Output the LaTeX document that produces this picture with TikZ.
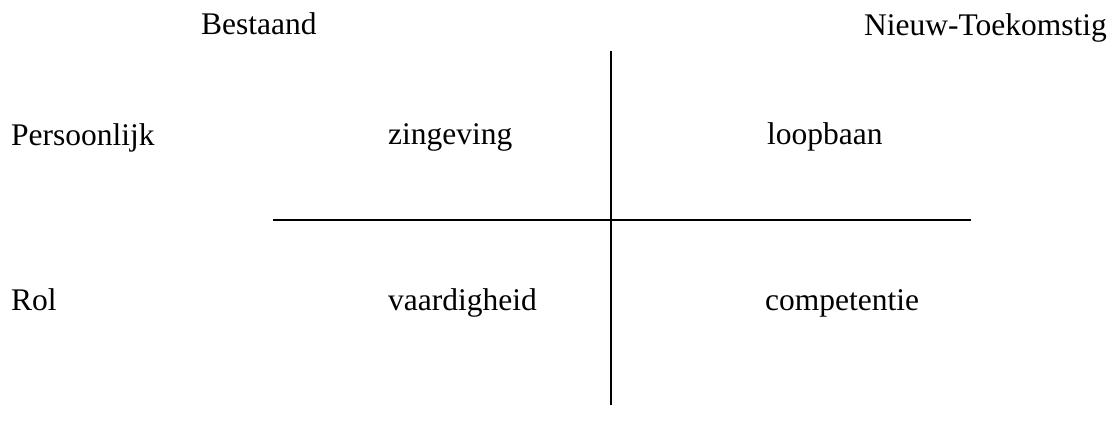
\documentclass[tikz,border=0pt]{standalone}
\usepackage{fontspec}
\setmainfont{Liberation Serif}
\begin{document}
\begin{tikzpicture}[x=1pt,y=-1pt,
  lbl/.style={inner sep=0pt,font=\fontsize{31.5}{37}\selectfont},
  axis/.style={line width=1.6pt,black}]
\useasboundingbox[fill=white] (0,0) rectangle (1112,433);
\node[lbl,anchor=base west] (bestaand) at (201,35) {Bestaand};
\node[lbl,anchor=base east] (nieuw) at (1107,36) {Nieuw-Toekomstig};
\node[lbl,anchor=base west] (pers) at (11,146) {Persoonlijk};
\node[lbl,anchor=base west] (zin) at (388,145) {zingeving};
\node[lbl,anchor=base west] (loop) at (767,145) {loopbaan};
\node[lbl,anchor=base west] (rol) at (11,310) {Rol};
\node[lbl,anchor=base west] (vaar) at (388,310) {vaardigheid};
\node[lbl,anchor=base west] (comp) at (765,310) {competentie};
\coordinate (vtop) at (611,51);
\coordinate (vbot) at (611,405);
\coordinate (hl) at (273,220);
\coordinate (hr) at (971,220);
\draw[axis] (vtop) -- (vbot);
\draw[axis] (hl) -- (hr);
\end{tikzpicture}
\end{document}
